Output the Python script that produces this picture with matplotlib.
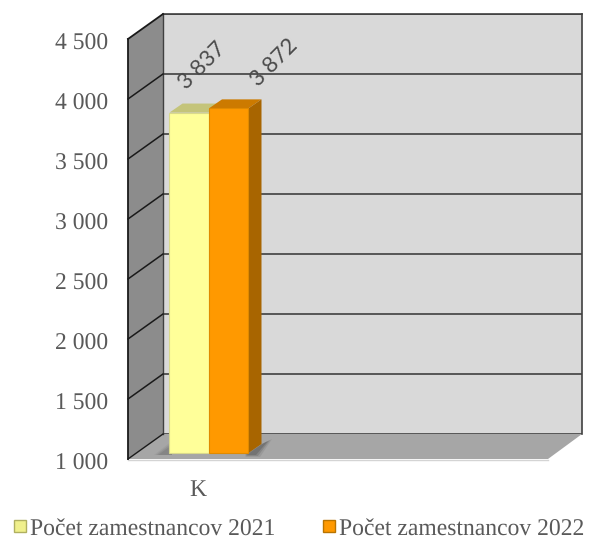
import matplotlib
matplotlib.use("Agg")
import matplotlib.pyplot as plt
from matplotlib.lines import Line2D
from matplotlib.patches import Polygon
from matplotlib.transforms import Affine2D, IdentityTransform

categories = ["K"]
series_names = ["Počet zamestnancov 2021", "Počet zamestnancov 2022"]
values_2021 = [3837]
values_2022 = [3872]
y_ticks = [1000, 1500, 2000, 2500, 3000, 3500, 4000, 4500]
y_labels = ["1 000", "1 500", "2 000", "2 500", "3 000", "3 500", "4 000", "4 500"]
label_2021 = ["3 837"]
label_2022 = ["3 872"]

W, H = 590, 541
TEXT = "#595959"
plt.rcParams["font.family"] = ["Liberation Serif", "DejaVu Serif"]
plt.rcParams["text.hinting"] = "no_hinting"

fig = plt.figure(figsize=(W / 100, H / 100), dpi=100)
# back wall of the fake 3d box, in pixels from the top left
L, R, T, B = 163, 582, 14, 434
ax = fig.add_axes([L / W, 1 - B / H, (R - L) / W, (B - T) / H])
ax.set_facecolor("#d9d9d9")
ax.set_ylim(1000, 4500)
ax.set_xlim(-1.838, 8.77)


def px(x, y):
    return (x, H - y)


def shifted(dx, dy):
    # dx, dy in pixels, dy down
    return ax.transData + Affine2D().translate(dx, -dy)


def poly(points, color, z=1, ec="none", lw=0, alpha=None):
    ax.add_patch(Polygon([px(*p) for p in points], closed=True, fc=color, ec=ec, lw=lw, alpha=alpha,
                         transform=IdentityTransform(), clip_on=False, zorder=z))


def line(x0, y0, x1, y1, color="#404040", lw=1.3, z=2):
    ax.add_line(Line2D([x0, x1], [H - y0, H - y1], color=color, lw=lw,
                       transform=IdentityTransform(), clip_on=False, zorder=z))


# left wall and floor
poly([(128, 39), (163, 14), (163, 434), (128, 459)], "#8c8c8c")
poly([(128, 459), (163, 434), (582, 434), (548, 459)], "#a6a6a6")
line(128, 459.5, 548, 459.5, "#d4d4d4", 1.0)
line(163, 14, 582, 14, "#404040", 1.2)
line(582, 14, 582, 434, "#404040", 1.2)
line(163, 14, 163, 434, "#404040", 1.0)
line(128, 39, 128, 459, "#1a1a1a", 1.3)
line(128, 39, 163, 14, "#1a1a1a", 1.3)
line(128, 459, 163, 434, "#1a1a1a", 1.0)

# grid on back wall, carried on to the left wall
ax.grid(True, axis="y", color="#404040", lw=1.2)
ax.set_axisbelow(True)
ax.set_yticks(y_ticks, y_labels)
for tick_value in y_ticks[1:-1]:
    y = H - ax.transData.transform((0, tick_value))[1]
    line(128, y + 25, 163, y, "#1a1a1a", 1.1)

# shadow on the floor, a few layers to look soft
for grow, alpha in [(4, 0.15), (2, 0.25), (0, 0.35)]:
    poly([(245, 455 + grow / 2), (262, 444), (268 + grow, 441 - grow / 2), (256 + grow, 455 + grow / 2)],
         "#505050", z=1.5, alpha=alpha)
    poly([(158 - grow, 455), (172, 445 - grow), (172, 455)], "#707070", z=1.5, alpha=alpha)

# bars: front plane sits 19 px in front of the wall, depth 13/9 px
FX, FY = -26.6, 19
DX, DY = 13, -9
plane = shifted(FX, FY)
x_pos = [-0.5, 0.5]
colors = [("#ffff99", "#c4c47a", "#b3b36b", "#d9d98c"), ("#ff9900", "#cc7a00", "#a86500", "#e08a00")]
series = [values_2021, values_2022]
for pos, vals, (front, top, side, edge) in zip(x_pos, series, colors):
    ax.bar([pos], vals[0] - 1000, bottom=1000, width=1, color=front, edgecolor=edge, lw=0.8,
           transform=plane, zorder=4, clip_on=False)
    x0, y1 = plane.transform((pos - 0.5, vals[0]))
    x1, y0 = plane.transform((pos + 0.5, 1000))
    a, b = (x0, H - y1), (x1, H - y1)
    c = (x1, H - y0)
    poly([a, b, (b[0] + DX, b[1] + DY), (a[0] + DX, a[1] + DY)], top, z=3)
    poly([b, c, (c[0] + DX, c[1] + DY), (b[0] + DX, b[1] + DY)], side, z=3)

# labels sit well off the bars, rotated
ax.annotate(label_2021[0], (x_pos[0], values_2021[0]), xycoords=plane, xytext=(14, 46),
            textcoords="offset pixels", rotation=45, ha="center", va="center",
            rotation_mode="anchor", family="Lato", fontsize=16,
            color="#4a4a4a", zorder=6, annotation_clip=False)
ax.annotate(label_2022[0], (x_pos[1], values_2022[0]), xycoords=plane, xytext=(46, 45),
            textcoords="offset pixels", rotation=45, ha="center", va="center",
            rotation_mode="anchor", family="Lato", fontsize=16,
            color="#4a4a4a", zorder=6, annotation_clip=False)

# tick labels belong to the front of the box
ax.tick_params(axis="y", length=0, pad=0, labelsize=17, labelcolor=TEXT)
ax.tick_params(axis="x", length=0, pad=0, labelsize=17, labelcolor=TEXT)
ax.set_xticks([0], categories)
for lab in ax.get_yticklabels():
    lab.set_transform(lab.get_transform() + Affine2D().translate(-55, -27))
for lab in ax.get_xticklabels():
    lab.set_transform(lab.get_transform() + Affine2D().translate(-37.6, -45))
for s in ax.spines.values():
    s.set_visible(False)

handles = [
    Line2D([], [], ls="", marker="s", ms=8.5, mfc="#f0f08c", mec="#b0b060", mew=1),
    Line2D([], [], ls="", marker="s", ms=8.5, mfc="#ff9900", mec="#b87400", mew=1),
]
fig.legend(handles, series_names, ncol=2, loc="center left", bbox_to_anchor=(13 / W, 1 - 529 / H),
           frameon=False, fontsize=17.05, labelcolor=TEXT, handlelength=0.6, handletextpad=0.12,
           columnspacing=1.95, borderpad=0, borderaxespad=0)

fig.savefig("out.png", dpi=100)
